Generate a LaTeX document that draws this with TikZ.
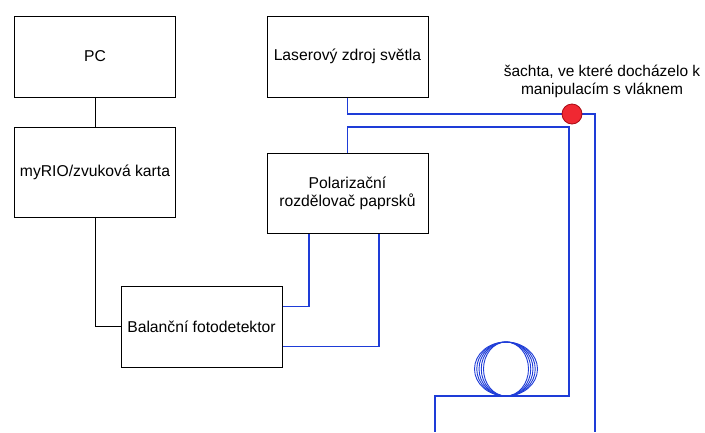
\documentclass[tikz,border=0pt]{standalone}
\usepackage{fontspec}
\setmainfont{Liberation Sans}
\definecolor{fiberblue}{RGB}{30,60,215}
\definecolor{dotred}{RGB}{240,40,50}
\definecolor{dotborder}{RGB}{170,10,20}
\begin{document}
\begin{tikzpicture}[x=1pt,y=-1pt,line width=1pt,
				main node/.style = {rectangle,draw,fill=white,inner sep=0pt,minimum width=161pt,minimum height=81pt,font=\fontsize{15.7}{18}\selectfont,align=center},
				fiber/.style = {draw=fiberblue,line width=1.2pt}]
				\useasboundingbox (0,0) rectangle (705,432);
				
				\node[main node] (1) at (95,56.5) {PC};
				\node[main node,minimum height=90pt] (2) at (95,172) {myRIO/zvuková karta};
				\node[main node] (3) at (347.5,56.5) {Laserový zdroj světla};
				\node[main node,minimum height=80pt] (4) at (347.5,193) {Polarizační\\rozdělovač paprsků};
				\node[main node] (5) at (201.5,326.5) {Balanční fotodetektor};
				\coordinate (6) at (572,114);
				\coordinate (7) at (506,396);
				\coordinate (a) at (595,432);
				\coordinate (b) at (435,432);
				\node[align=center,font=\fontsize{15.5}{18}\selectfont] (8) at (602,81) {šachta, ve které docházelo k\\manipulacím s vláknem};
				
				\draw (1)--(2);
				\draw (2) |- (5);
				\draw[fiber] ([xshift=-38.5pt]4.south) |- ([yshift=20pt]5.east);
				\draw[fiber] ([xshift=31.5pt]4.south) |- ([yshift=-20pt]5.east);
				\draw[fiber] (3) |- (6) -| (a);
				\draw[fiber] (4) |- (569,127) |- (7) -| (b);
				\foreach \r in {22.5,24.75,27,29.25,31.5}
					\draw[fiber,line width=0.9pt] (506,369) ellipse ({\r pt} and 27pt);
				\node[circle,draw=dotborder,fill=dotred,line width=0.8pt,minimum size=20pt,inner sep=0pt] (9) at (6) {};
\end{tikzpicture}
\end{document}
